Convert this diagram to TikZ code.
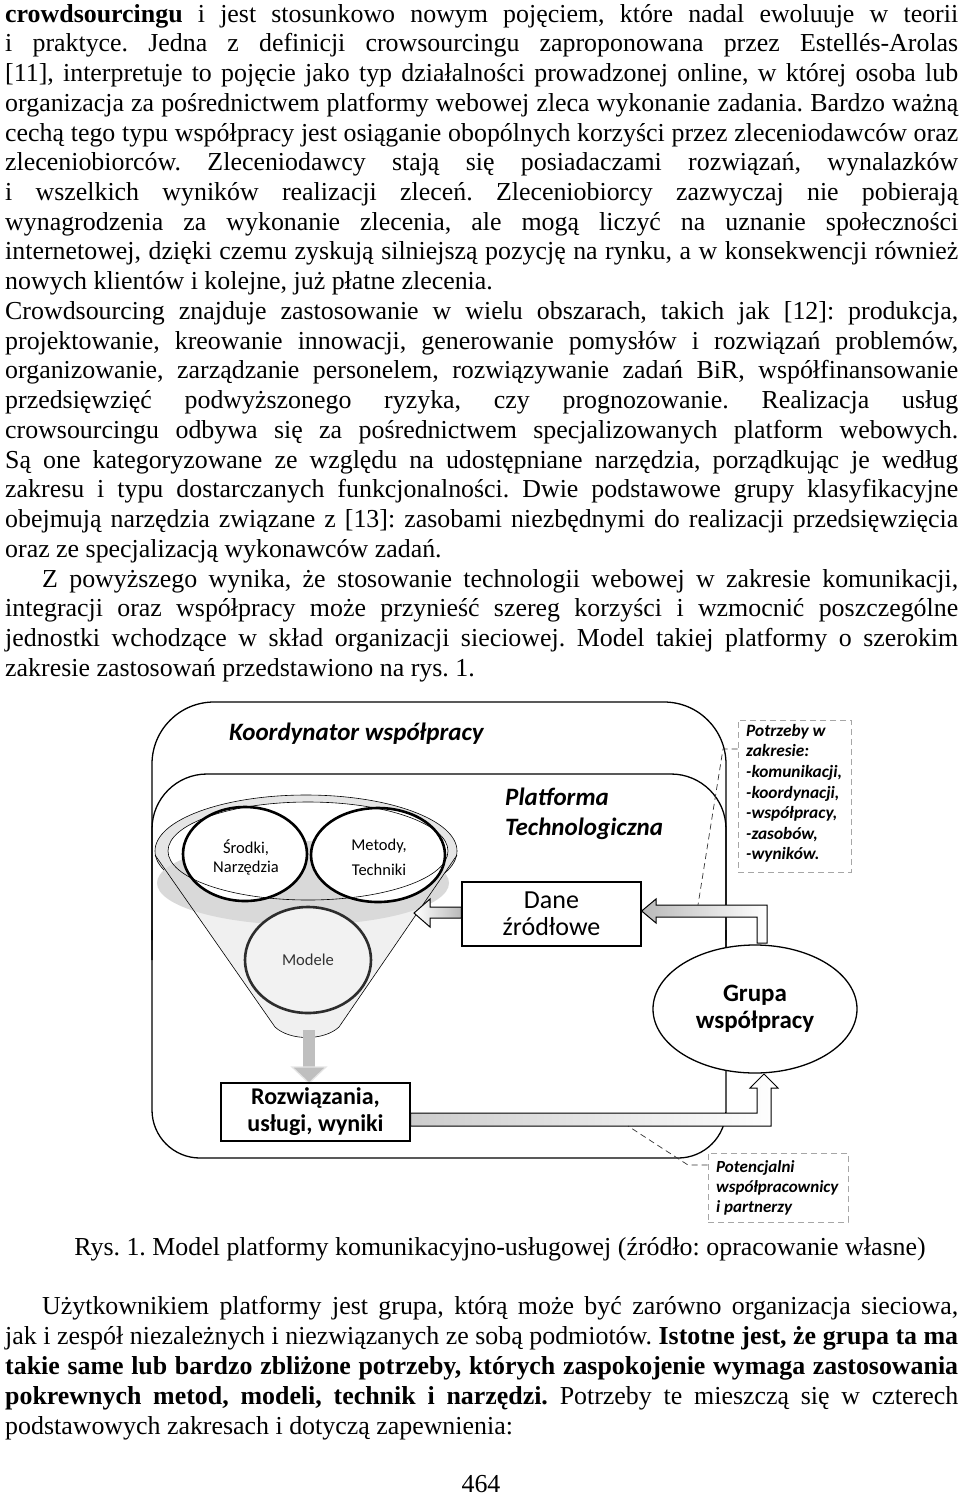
\documentclass[tikz,border=0pt]{standalone}
\usepackage{fontspec}
\setmainfont{Liberation Serif}
\newfontfamily\cf{Carlito}
\usetikzlibrary{shapes.geometric}
\frenchspacing
\newcommand{\JLine}[4]{\node[txt] (#1) at (#2,#3) {\makebox[\dimexpr958pt-#2pt\relax][s]{#4}};}
\newcommand{\LLine}[4]{\node[txt] (#1) at (#2,#3) {#4};}
\tikzset{
 txt/.style={anchor=base west, inner sep=0pt, font=\frenchspacing\fontsize{25.9}{29.75}\selectfont},
 frame/.style={draw=black, line width=1.3pt},
 thinline/.style={draw=black, line width=0.6pt},
 bigcirc/.style={ellipse, draw=black, line width=2.6pt, fill=white, inner sep=0pt},
 boxnode/.style={rectangle, draw=black, line width=1.3pt, fill=white, inner sep=0pt},
 dbox/.style={rectangle, draw=gray!70, dash pattern=on 6pt off 4pt, line width=1pt, inner sep=0pt},
 leader/.style={draw=gray!40!black, dash pattern=on 6pt off 4pt, line width=0.7pt},
 blk/.style={draw=black, line width=1pt},
 lbl/.style={inner sep=0pt, align=center}
}
\begin{document}
\begin{tikzpicture}[x=1pt,y=-1pt]
\useasboundingbox (0,0) rectangle (960,1497);
\fill[white] (0,0) rectangle (960,1497);

% ---------- body text, top ----------
\JLine{l1}{5}{22}{\textbf{crowdsourcingu} i jest stosunkowo nowym pojęciem, które nadal ewoluuje w teorii}
\JLine{l2}{5}{51.7}{i praktyce. Jedna z definicji crowsourcingu zaproponowana przez Estellés-Arolas}
\JLine{l3}{5}{81.5}{[11], interpretuje to pojęcie jako typ działalności prowadzonej online, w której osoba lub}
\JLine{l4}{5}{111.2}{organizacja za pośrednictwem platformy webowej zleca wykonanie zadania. Bardzo ważną}
\JLine{l5}{5}{141.0}{cechą tego typu współpracy jest osiąganie obopólnych korzyści przez zleceniodawców oraz}
\JLine{l6}{5}{170.7}{zleceniobiorców. Zleceniodawcy stają się posiadaczami rozwiązań, wynalazków}
\JLine{l7}{5}{200.4}{i wszelkich wyników realizacji zleceń. Zleceniobiorcy zazwyczaj nie pobierają}
\JLine{l8}{5}{230.2}{wynagrodzenia za wykonanie zlecenia, ale mogą liczyć na uznanie społeczności}
\JLine{l9}{5}{259.9}{internetowej, dzięki czemu zyskują silniejszą pozycję na rynku, a w konsekwencji również}
\LLine{l10}{5}{289.7}{nowych klientów i kolejne, już płatne zlecenia.}
\JLine{l11}{5}{319.4}{Crowdsourcing znajduje zastosowanie w wielu obszarach, takich jak [12]: produkcja,}
\JLine{l12}{5}{349.1}{projektowanie, kreowanie innowacji, generowanie pomysłów i rozwiązań problemów,}
\JLine{l13}{5}{378.9}{organizowanie, zarządzanie personelem, rozwiązywanie zadań BiR, współfinansowanie}
\JLine{l14}{5}{408.6}{przedsięwzięć podwyższonego ryzyka, czy prognozowanie. Realizacja usług}
\JLine{l15}{5}{438.4}{crowsourcingu odbywa się za pośrednictwem specjalizowanych platform webowych.}
\JLine{l16}{5}{468.1}{Są one kategoryzowane ze względu na udostępniane narzędzia, porządkując je według}
\JLine{l17}{5}{497.8}{zakresu i typu dostarczanych funkcjonalności. Dwie podstawowe grupy klasyfikacyjne}
\JLine{l18}{5}{527.6}{obejmują narzędzia związane z [13]: zasobami niezbędnymi do realizacji przedsięwzięcia}
\LLine{l19}{5}{557.3}{oraz ze specjalizacją wykonawców zadań.}
\JLine{l20}{42}{587.1}{Z powyższego wynika, że stosowanie technologii webowej w zakresie komunikacji,}
\JLine{l21}{5}{616.8}{integracji oraz współpracy może przynieść szereg korzyści i wzmocnić poszczególne}
\JLine{l22}{5}{646.5}{jednostki wchodzące w skład organizacji sieciowej. Model takiej platformy o szerokim}
\LLine{l23}{5}{676.3}{zakresie zastosowań przedstawiono na rys. 1.}

% ---------- figure ----------
% frames
\draw[frame, rounded corners=62] (152,940) -- (152,702) -- (726,702) -- (726,940);
\draw[frame, rounded corners=48] (726,930) -- (726,1158) -- (152,1158) -- (152,930);
\draw[frame, rounded corners=55] (152,960) -- (152,774) -- (726,774) -- (726,960);

\node[anchor=west, inner sep=0pt, font=\cf\bfseries\itshape\fontsize{25}{30}\selectfont] (koord) at (229,734) {Koordynator współpracy};
\node[anchor=north west, inner sep=0pt, align=left, font=\cf\bfseries\itshape\fontsize{25}{30}\selectfont] (platf) at (505,788) {Platforma\\Technologiczna};

% funnel
\coordinate (fL) at (155,855);
\coordinate (fR) at (457,855);
\coordinate (fBL) at (275,1027);
\coordinate (fBR) at (339,1027);
\fill[gray!12] (fL) -- (fBL) .. controls (290,1041) and (324,1041) .. (fBR) -- (fR) -- cycle;
\fill[gray!20] (306,851) ellipse [x radius=151, y radius=56];
\draw[thinline] (306,851) ellipse [x radius=151, y radius=56];
\fill[white] (308,851) ellipse [x radius=140, y radius=49];
\fill[gray!30] (303,883) ellipse [x radius=146, y radius=42];
\node[bigcirc, draw=none, minimum width=124pt, minimum height=94pt] (srodkiF) at (245,854) {};
\node[bigcirc, draw=none, minimum width=134pt, minimum height=94pt] (metodyF) at (378,855) {};
\draw[thinline] (308,851) ellipse [x radius=140, y radius=49];
\node[bigcirc, fill=none, minimum width=124pt, minimum height=94pt] (srodki) at (245,854) {};
\node[bigcirc, fill=none, minimum width=134pt, minimum height=94pt] (metody) at (378,855) {};
\draw[thinline] (fL) -- (fBL) .. controls (290,1041) and (324,1041) .. (fBR) -- (fR);
\node[bigcirc, draw=gray!35!black, fill=gray!10, minimum width=126pt, minimum height=106pt] (modele) at (308,960) {};

\node[lbl, font=\cf\fontsize{16.5}{19}\selectfont] (srodkiT) at (246,857) {Środki,\\Narzędzia};
\node[lbl, font=\cf\fontsize{16.5}{25}\selectfont] (metodyT) at (379,857) {Metody,\\Techniki};
\node[lbl, font=\cf\fontsize{16.6}{20}\selectfont, text=gray!40!black] (modeleT) at (308,960) {Modele};

% down arrow funnel -> results
\fill[gray!50] (303,1030) rectangle (315,1069);
\draw[draw=gray!20, line width=1.2pt, fill=gray!50] (292,1067) -- (326,1067) -- (309,1083) -- cycle;

% boxes
\node[boxnode, minimum width=179pt, minimum height=64pt, align=center, font=\cf\fontsize{26}{27}\selectfont] (dane) at (551.5,914) {Dane\\źródłowe};
\node[boxnode, minimum width=189pt, minimum height=58pt, align=center, font=\cf\bfseries\fontsize{24}{27}\selectfont] (rozw) at (315.5,1112) {Rozwiązania,\\usługi, wyniki};
\node[ellipse, draw=black, line width=1.3pt, fill=white, minimum width=204pt, minimum height=128pt, inner sep=0pt, align=center, font=\cf\bfseries\fontsize{25}{27}\selectfont] (grupa) at (755,1009) {Grupa\\współpracy};

% arrow dane -> funnel
\draw[blk, left color=white, right color=gray!55] (dane.west |- 0,907) -- (430,907) -- (430,899) -- (414,913) -- (430,927) -- (430,918) -- (dane.west |- 0,918) -- cycle;

% arrow grupa -> dane
\draw[blk, left color=gray!55, right color=white] (dane.east |- 0,911) -- (656,899) -- (656,905) -- (767,905) -- (767,943) -- (757,943) -- (757,917) -- (656,917) -- (656,923) -- cycle;

% arrow results -> grupa
\draw[blk, left color=gray!40, right color=white] (rozw.east |- 0,1113) -- (757,1113) -- (757,1088) -- (750,1088) -- (764,1074) -- (778,1088) -- (771,1088) -- (771,1126) -- (rozw.east |- 0,1126) -- cycle;

% callout boxes
\node[dbox, minimum width=113pt, minimum height=152pt] (potrz) at (794.5,796) {};
\node[anchor=north west, inner sep=0pt, align=left, font=\cf\bfseries\itshape\fontsize{17.3}{20.6}\selectfont] (potrzT) at (746,724) {Potrzeby w\\zakresie:\\-komunikacji,\\-koordynacji,\\-współpracy,\\-zasobów,\\-wyników.};
\node[dbox, minimum width=140pt, minimum height=69pt] (poten) at (778,1187.5) {};
\node[anchor=north west, inner sep=0pt, align=left, font=\cf\bfseries\itshape\fontsize{17}{20}\selectfont] (potenT) at (716,1160) {Potencjalni\\współpracownicy\\i partnerzy};

\coordinate (c1) at (723,749);
\coordinate (c2) at (698,905);
\draw[leader] (potrz.west |- c1) -- (c1) -- (c2);
\coordinate (c3) at (688,1165);
\coordinate (c4) at (628,1126);
\draw[leader] (poten.west |- c3) -- (c3) -- (c4);

% caption
\node[anchor=base, inner sep=0pt, font=\fontsize{25.9}{29.75}\selectfont] (caption) at (500,1255) {Rys. 1. Model platformy komunikacyjno-usługowej (źródło: opracowanie własne)};

% ---------- body text, bottom ----------
\JLine{l24}{42}{1314}{Użytkownikiem platformy jest grupa, którą może być zarówno organizacja sieciowa,}
\JLine{l25}{5}{1344}{jak i zespół niezależnych i niezwiązanych ze sobą podmiotów. \textbf{Istotne jest, że grupa ta ma}}
\JLine{l26}{5}{1374}{\textbf{takie same lub bardzo zbliżone potrzeby, których zaspokojenie wymaga zastosowania}}
\JLine{l27}{5}{1404}{\textbf{pokrewnych metod, modeli, technik i narzędzi.} Potrzeby te mieszczą się w czterech}
\LLine{l28}{5}{1434}{podstawowych zakresach i dotyczą zapewnienia:}
\node[anchor=base, inner sep=0pt, font=\fontsize{25.9}{29.75}\selectfont] (pagenum) at (481,1492) {464};
\end{tikzpicture}
\end{document}
